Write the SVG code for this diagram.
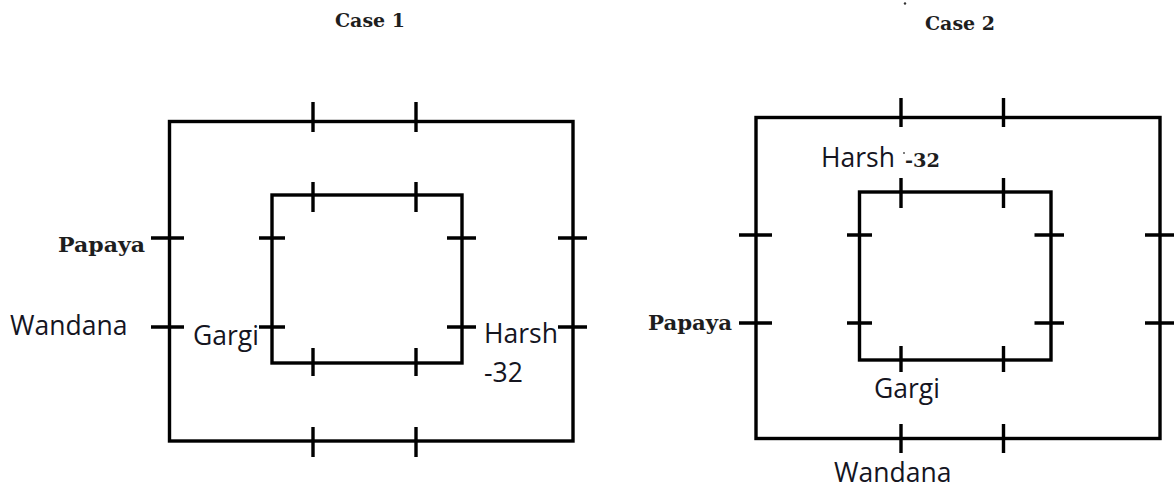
<svg xmlns="http://www.w3.org/2000/svg" width="1174" height="488" viewBox="0 0 1174 488">
<style>
.ln{stroke:#000;stroke-width:3.4;fill:none;stroke-linecap:butt}
.sans{font-family:"Open Sans","Noto Sans",sans-serif;font-size:26.5px;fill:#15151f}
.serif{font-family:"DejaVu Serif","Liberation Serif",serif;font-weight:bold;fill:#1e1e1e}
</style>
<rect width="1174" height="488" fill="#fff"/>
<g id="case1">
  <text class="serif" x="335" y="27" font-size="19" textLength="70" lengthAdjust="spacingAndGlyphs">Case 1</text>
  <g id="c1-outer">
    <rect class="ln" x="169.5" y="121.5" width="403.5" height="319.5"/>
    <path class="ln" d="M313 102V132M416 102V132M313 427V457M416 427V457M151 238H184M151 327H184M558 238H587M558 327H587"/>
  </g>
  <g id="c1-inner">
    <rect class="ln" x="272" y="195" width="190" height="168"/>
    <path class="ln" d="M313 182V212M416 182V212M313 348V376M416 348V376M259 238H285M259 327H285M447 238H476M447 327H476"/>
  </g>
  <g id="c1-papaya"><text class="serif" x="58" y="252" font-size="20" textLength="87" lengthAdjust="spacingAndGlyphs">Papaya</text></g>
  <g id="c1-wandana"><text class="sans" x="10" y="335">Wandana</text></g>
  <g id="c1-gargi"><text class="sans" x="193" y="345">Gargi</text></g>
  <g id="c1-harsh"><text class="sans" x="484" y="343">Harsh</text><text class="sans" x="484" y="382">-32</text></g>
</g>
<g id="case2">
  <circle cx="905" cy="3.5" r="1.2" fill="#333"/>
  <text class="serif" x="925" y="30" font-size="19" textLength="70" lengthAdjust="spacingAndGlyphs">Case 2</text>
  <g id="c2-outer">
    <rect class="ln" x="756" y="117.5" width="404" height="321"/>
    <path class="ln" d="M901 98V127M1003.5 98V127M901 424V453M1003.5 424V453M739 235H772M739 323H772M1145 235H1176M1145 323H1176"/>
  </g>
  <g id="c2-inner">
    <rect class="ln" x="859.5" y="192" width="191.5" height="168"/>
    <path class="ln" d="M901 178V208M1003.5 178V208M901 346V372M1003.5 346V372M847 235H872M847 323H872M1034.5 235H1064M1034.5 323H1064"/>
  </g>
  <g id="c2-harsh">
    <text class="sans" x="821" y="167" font-size="25">Harsh</text>
    <circle cx="904" cy="153" r="1" fill="#555"/>
    <text class="serif" x="905" y="167" font-size="18" textLength="35" lengthAdjust="spacingAndGlyphs">-32</text>
  </g>
  <g id="c2-papaya"><text class="serif" x="648" y="330" font-size="20" textLength="84" lengthAdjust="spacingAndGlyphs">Papaya</text></g>
  <g id="c2-gargi"><text class="sans" x="874" y="398">Gargi</text></g>
  <g id="c2-wandana"><text class="sans" x="834" y="482">Wandana</text></g>
</g>
</svg>
